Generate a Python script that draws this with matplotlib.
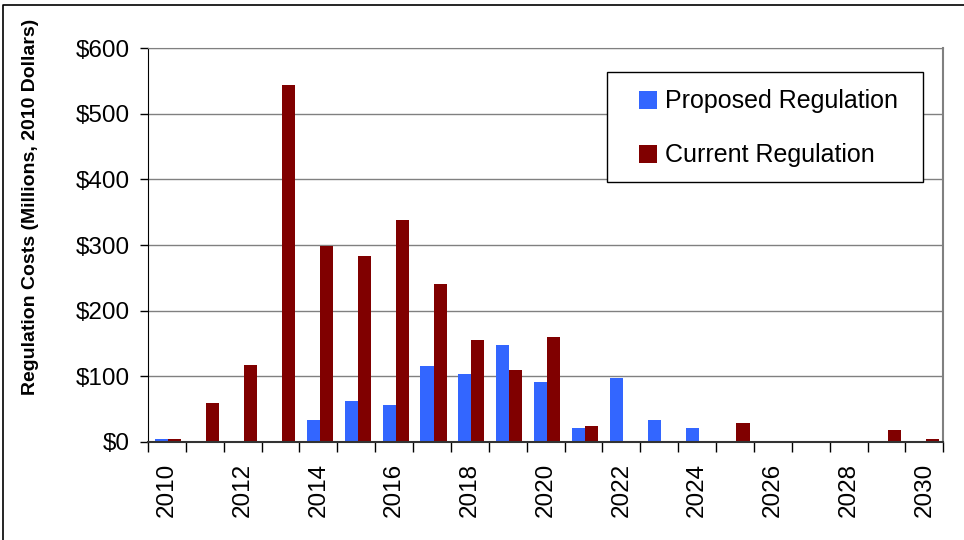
import numpy as np
import matplotlib
matplotlib.use("Agg")
import matplotlib.pyplot as plt
from matplotlib.lines import Line2D
from matplotlib.patches import Rectangle

plt.rcParams["font.family"] = ["Liberation Sans", "DejaVu Sans"]

BLUE, RED = "#3366ff", "#800000"

years = list(range(2010, 2031))
proposed = [5, 0, 0, 0, 33, 63, 57, 116, 103, 148, 91, 21, 97, 33, 21, 0, 0, 0, 0, 0, 0]
current = [5, 60, 118, 544, 298, 283, 338, 240, 155, 109, 160, 24, 0, 0, 0, 29, 0, 0, 0, 18, 5]
yticks = [0, 100, 200, 300, 400, 500, 600]

fig = plt.figure(figsize=(9.64, 5.4), dpi=100)
ax = fig.add_axes([0.1535, 0.1815, 0.825, 0.7295])

x = np.arange(len(years))
w = 0.345
ax.bar(x - w / 2 + 0.04, proposed, w, color=BLUE, label="Proposed Regulation")
ax.bar(x + w / 2 + 0.04, current, w, color=RED, label="Current Regulation")

ax.set_xlim(-0.5, len(years) - 0.5)
ax.set_ylim(0, 600)
ax.set_yticks(yticks)
ax.set_yticklabels([f"${v}" for v in yticks], fontsize=17.5)
ax.set_xticks(x[::2])
ax.set_xticklabels([str(y) for y in years[::2]], rotation=90, fontsize=17.5)
ax.tick_params(axis="x", length=0, pad=15)
ax.set_xticks(np.arange(-0.5, len(years)), minor=True)
ax.tick_params(axis="x", which="minor", length=7, width=1, color="black")
ax.tick_params(axis="y", length=6, width=1, color="black", pad=7)

ax.grid(axis="y", color="#808080", lw=1)
ax.set_axisbelow(True)
ax.spines["top"].set_color("#808080")
ax.spines["right"].set_color("#808080")
ax.spines["right"].set_linewidth(1.5)
ax.spines["left"].set_color("black")
ax.spines["bottom"].set_color("#333333")
ax.spines["bottom"].set_linewidth(1.5)

ax.set_ylabel("Regulation Costs (Millions, 2010 Dollars)", fontsize=14,
              fontweight="bold")
ax.yaxis.set_label_coords(-0.137, 0.596)

# legend box drawn separately so its padding can match the original
ax.add_patch(Rectangle((0.5774, 0.66), 0.3974, 0.2791, transform=ax.transAxes,
                       facecolor="white", edgecolor="black", lw=1, zorder=4))
leg = ax.legend(loc="upper left", bbox_to_anchor=(0.6176, 0.895), fontsize=18,
                frameon=False, handlelength=0.72, handleheight=0.72,
                handletextpad=0.3, labelspacing=1.2, borderpad=0, borderaxespad=0)
leg.set_zorder(5)

# outer chart border (top and left edges only visible)
fig.add_artist(Line2D([0.003, 0.003, 1.0], [0.0, 0.991, 0.991],
                      transform=fig.transFigure, color="black", lw=1.2))

fig.savefig("out.png", dpi=100)
